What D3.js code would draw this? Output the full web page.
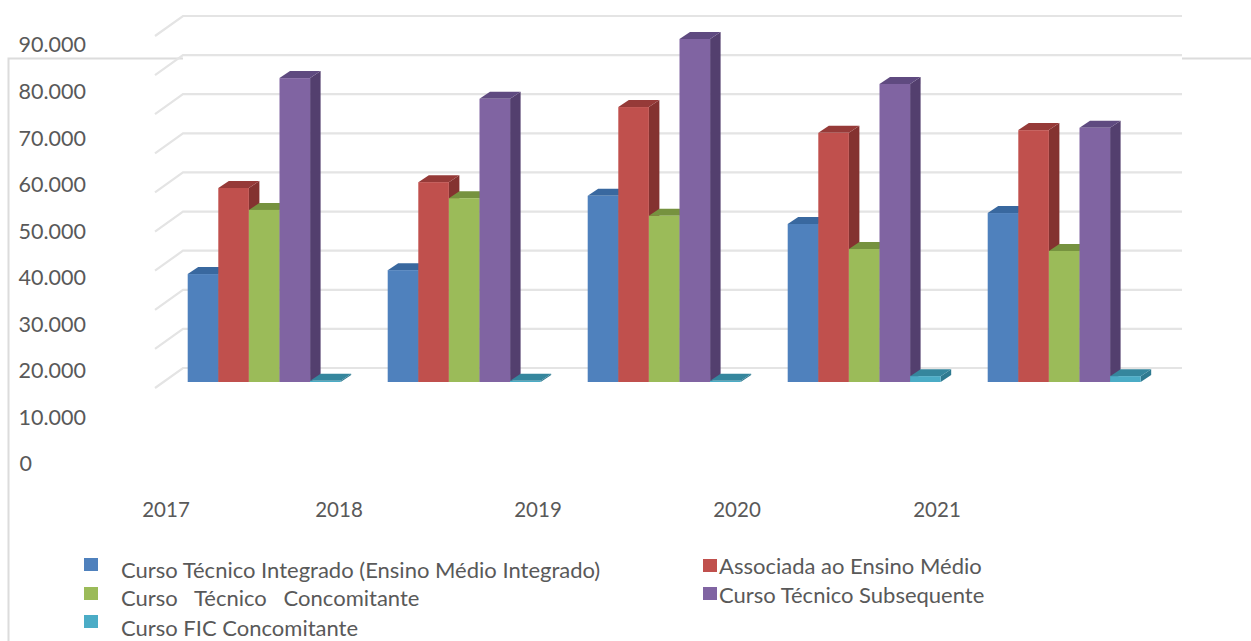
<!DOCTYPE html>
<html><head><meta charset="utf-8"><script src="https://cdn.jsdelivr.net/npm/d3@7"></script>
<style>html,body{margin:0;background:#fff}svg{display:block}text{font-family:Lato,sans-serif;fill:#595959;white-space:pre}</style>
</head><body><svg id="c" width="1251" height="641"></svg>
<script>
const years = ["2017","2018","2019","2020","2021"];
const seriesNames = ["Curso Técnico Integrado (Ensino Médio Integrado)","Associada ao Ensino Médio","Curso   Técnico   Concomitante","Curso Técnico Subsequente","Curso FIC Concomitante"];
const integrado = [27600,28600,47600,40400,43200];
const associada = [49600,51100,70300,63700,64400];
const concomitante = [44000,47000,42500,34000,33500];
const subsequente = [77700,72400,87700,76200,65000];
const fic = [300,300,300,1500,1500];
const yTicks = [0,10000,20000,30000,40000,50000,60000,70000,80000,90000];
const seriesValues = [integrado,associada,concomitante,subsequente,fic];
const front = ["#4f81bd","#c0504d","#9bbb59","#8064a2","#4bacc6"];
const top_ = ["#39689f","#963a38","#76923f","#5f4a80","#35869d"];
const side = ["#335d8e","#843230","#67803a","#533f6e","#2f7a90"];

const svg = d3.select("#c");
const grid = "#e4e4e4";
const dx = 10.5, dy = 7;
const yBack = d3.scaleLinear().domain([0,90000]).range([368,16]);
const yBar = d3.scaleLinear().domain([0,90000]).range([382,30]);
const yLabel = d3.scaleLinear().domain([0,90000]).range([464,45]);
const x0 = d3.scaleBand().domain(years).range([164.2,1164.2]).paddingInner(0.235).paddingOuter(0.1175);
const x1 = d3.scaleBand().domain(d3.range(5)).range([0,x0.bandwidth()]);
const xLabel = d3.scaleOrdinal().domain(years).range([166,339,538,737,937]);

// frame
svg.append("path").attr("d","M8.5,641V58.5H183M1182,58.5H1251").attr("fill","none").attr("stroke","#dcdcdc").attr("stroke-width",2);
// grid
yTicks.forEach(t=>{
  const y=yBack(t);
  svg.append("path").attr("d",`M155,${y+20}L183,${y}H1182`).attr("fill","none").attr("stroke",grid).attr("stroke-width",2.2);
});
// bars
years.forEach((yr,i)=>{
  const g=svg.append("g");
  [0,1,2,3,4].forEach(s=>{
    const v=seriesValues[s][i], x=x0(yr)+x1(s), w=x1.bandwidth(), b=yBar(0), t=yBar(v);
    g.append("path").attr("fill",side[s]).attr("d",`M${x+w},${t}l${dx},${-dy}V${b-dy}L${x+w},${b}Z`);
    g.append("path").attr("fill",top_[s]).attr("d",`M${x},${t}l${dx},${-dy}h${w}l${-dx},${dy}Z`);
    g.append("rect").attr("x",x).attr("y",t).attr("width",w).attr("height",b-t).attr("fill",front[s]);
  });
});
// axis labels
const axisG = svg.append("g").attr("transform","translate(86,0)")
  .call(d3.axisLeft(yLabel).tickValues(yTicks).tickSize(0).tickPadding(0).tickFormat(d=>d===0?"0":d3.format(",")(d).replace(",",".")));
axisG.select(".domain").remove();
axisG.selectAll("text").style("font-size","21.5px").style("font-family","Lato,sans-serif").attr("fill","#595959");
axisG.selectAll(".tick").filter(d=>d===0).select("text").attr("x",-54);
svg.selectAll(".yr").data(years).join("text").attr("class","yr").attr("x",d=>xLabel(d)).attr("y",510)
  .attr("dy","0.32em").attr("text-anchor","middle").style("font-size","20.5px").text(d=>d);
// legend
const legendX = d3.scaleOrdinal().domain(d3.range(5)).range([84,703,84,703,84]);
const legendSwY = d3.scaleOrdinal().domain(d3.range(5)).range([558,559,587,587,615]);
const legendTX = d3.scaleOrdinal().domain(d3.range(5)).range([121,719,121,719,121]);
const legendTY = d3.scaleOrdinal().domain(d3.range(5)).range([570,566,598,595,628]);
const leg = svg.selectAll(".leg").data(seriesNames).join("g").attr("class","leg");
leg.append("rect").attr("x",(d,i)=>legendX(i)).attr("y",(d,i)=>legendSwY(i)).attr("width",14).attr("height",13).attr("fill",(d,i)=>front[i]);
leg.append("text").attr("x",(d,i)=>legendTX(i)).attr("y",(d,i)=>legendTY(i)).attr("dy","0.35em").style("font-size","22px").text(d=>d);
</script></body></html>
